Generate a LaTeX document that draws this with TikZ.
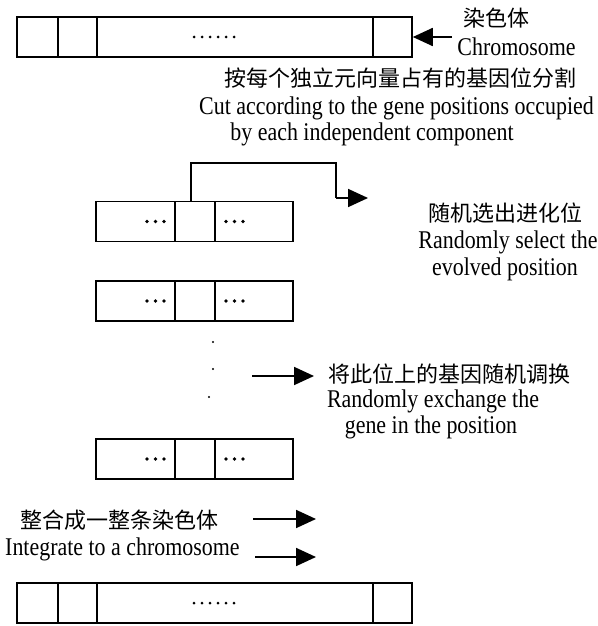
\documentclass[tikz,border=0pt]{standalone}
\usepackage{fontspec}
\setmainfont{Liberation Serif}[FakeStretch=0.86]
\newfontfamily\cjk{Noto Sans CJK SC}
\usetikzlibrary{arrows.meta}
\tikzset{
  cell/.style={draw, line width=1.8pt, minimum height=40pt, inner sep=0pt, anchor=west},
  conn/.style={line width=1.8pt},
  arr/.style={line width=1.8pt, -{Triangle[length=20pt,width=18pt]}},
  lbl/.style={inner sep=0pt, font=\fontsize{25.5}{28}\selectfont},
  zh/.style={inner sep=0pt, font=\fontsize{22}{26}\selectfont\cjk},
}
\begin{document}
\begin{tikzpicture}[x=1pt,y=-1pt]
\useasboundingbox[fill=white] (0,0) rectangle (597,626);
% top chromosome
\node[cell, minimum width=41pt] (t1) at (16,37) {};
\node[cell, minimum width=39pt] (t2) at (57,37) {};
\node[cell, minimum width=276pt] (t3) at (96,37) {};
\node[cell, minimum width=39pt] (t4) at (372,37) {};
\foreach \i in {0,...,5} \fill (194+\i*8,37) circle (1.5pt);
% bottom chromosome
\node[cell, minimum width=41pt] (b1) at (16,603) {};
\node[cell, minimum width=39pt] (b2) at (57,603) {};
\node[cell, minimum width=276pt] (b3) at (96,603) {};
\node[cell, minimum width=39pt] (b4) at (372,603) {};
\foreach \i in {0,...,5} \fill (194+\i*8,603) circle (1.5pt);
% gene rows
\foreach \r/\y in {1/221.5, 2/301, 3/459}{
  \node[cell, minimum width=79pt] (r\r a) at (95,\y) {};
  \node[cell, minimum width=40pt] (r\r b) at (174,\y) {};
  \node[cell, minimum width=78pt] (r\r c) at (214,\y) {};
  \foreach \i in {0,1,2} {\fill (147+\i*8.5,\y) circle (1.8pt); \fill (226+\i*8.5,\y) circle (1.8pt);}
}
% vertical dots
\fill (213,342) circle (1.2pt);
\fill (213,369) circle (1.2pt);
\fill (209,397) circle (1.2pt);
% labels
\node[zh] (zh1) at (496.5,18) {染色体};
\node[lbl] (en1) at (516.5,47) {Chromosome};
\node[zh] (zh2) at (400.5,78) {按每个独立元向量占有的基因位分割};
\node[lbl] (en2a) at (396.5,108) {Cut according to the gene positions occupied};
\node[lbl] (en2b) at (372,134) {by each independent component};
\node[zh] (zh3) at (505,213) {随机选出进化位};
\node[lbl] (en3a) at (508,242) {Randomly select the};
\node[lbl] (en3b) at (505,269) {evolved position};
\node[zh, anchor=west] (zh4) at (328,374) {将此位上的基因随机调换};
\node[lbl] (en4a) at (433,401) {Randomly exchange the};
\node[lbl] (en4b) at (431,427) {gene in the position};
\node[zh, anchor=west] (zh5) at (20,520) {整合成一整条染色体};
\node[lbl, anchor=west] (en5) at (5,549) {Integrate to a chromosome};
% connectors
\coordinate (a1s) at (452,37);
\draw[arr] (a1s) -- (t4.east);
\coordinate (k1) at (336,163);
\coordinate (k2) at (336,198);
\coordinate (k3) at (368,198);
\draw[conn] ([xshift=-4pt]r1b.north) |- (k1) -- (k2);
\draw[arr] (k2) -- (k3);
\coordinate (a3s) at (252,376);
\coordinate (a3e) at (314,376);
\draw[arr] (a3s) -- (a3e);
\coordinate (a4s) at (253,519);
\coordinate (a4e) at (316,519);
\draw[arr] (a4s) -- (a4e);
\coordinate (a5s) at (255,557);
\coordinate (a5e) at (316,557);
\draw[arr] (a5s) -- (a5e);
\end{tikzpicture}
\end{document}
